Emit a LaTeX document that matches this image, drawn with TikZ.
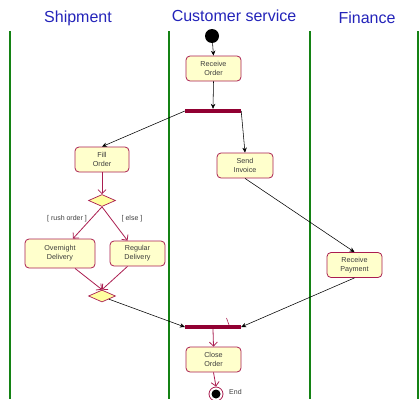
\documentclass[tikz,border=0pt]{standalone}
\usepackage{fontspec}
\setmainfont{Liberation Sans}
\usetikzlibrary{arrows.meta,shapes.geometric}
\definecolor{lanegreen}{RGB}{20,130,20}
\definecolor{titleblue}{RGB}{35,35,185}
\definecolor{boxred}{RGB}{170,30,80}
\definecolor{boxfill}{RGB}{255,255,204}
\definecolor{barred}{RGB}{145,0,50}
\definecolor{decfill}{RGB}{255,255,160}
\definecolor{textgrey}{RGB}{60,60,60}
\tikzset{
  lane/.style={draw=lanegreen, line width=1.6pt},
  lanetitle/.style={text=titleblue, font=\fontsize{16}{18}\selectfont, inner sep=0pt},
  activity/.style={draw=boxred, fill=boxfill, rounded corners=4pt, line width=0.8pt,
    minimum width=55pt, minimum height=25pt, inner sep=0pt, align=center,
    text=textgrey, font=\fontsize{7.2}{9}\selectfont},
  syncbar/.style={fill=barred, minimum width=56pt, minimum height=4pt, inner sep=0pt},
  decision/.style={diamond, draw=boxred, fill=decfill, line width=0.7pt,
    minimum width=27pt, minimum height=12pt, inner sep=0pt, aspect=2.25},
  flow/.style={draw=black, line width=0.55pt, -{Stealth[length=5pt,width=4.5pt]}},
  redflow/.style={draw=boxred, line width=0.8pt, -{Straight Barb[length=4pt,width=8pt]}},
  guard/.style={text=textgrey, font=\fontsize{7}{8}\selectfont, inner sep=0pt},
}
\begin{document}
\begin{tikzpicture}[x=1pt,y=-1pt]
\useasboundingbox (0,0) rectangle (420,399);

% swimlane separators
\coordinate (l0t) at (10,31);   \coordinate (l0b) at (10,399);
\coordinate (l1t) at (169,31);  \coordinate (l1b) at (169,399);
\coordinate (l2t) at (310,31);  \coordinate (l2b) at (310,399);
\coordinate (l3t) at (418,31);  \coordinate (l3b) at (418,399);
\draw[lane] (l0t) -- (l0b);
\draw[lane] (l1t) -- (l1b);
\draw[lane] (l2t) -- (l2b);
\draw[lane] (l3t) -- (l3b);

% lane titles
\node[lanetitle] (tship) at (78,18) {Shipment};
\node[lanetitle] (tcust) at (234,16) {Customer service};
\node[lanetitle] (tfin) at (367,18) {Finance};

% initial state
\node[circle, fill=black, minimum size=14pt, inner sep=0pt] (start) at (212,36) {};

% activities
\node[activity] (recv) at (213.5,68.5) {Receive\\Order};
\node[syncbar] (fork) at (213,111) {};
\node[activity, minimum width=54pt] (fill) at (102,159.5) {Fill\\Order};
\node[activity, minimum width=56pt] (send) at (245,165.5) {Send\\Invoice};
\node[decision] (dec) at (102,200.5) {};
\node[activity, minimum width=70pt, minimum height=29pt] (over) at (60,253.5) {Overnight\\Delivery};
\node[activity] (reg) at (137.5,253.5) {Regular\\Delivery};
\node[decision] (merge) at (102,296) {};
\node[activity] (pay) at (354.5,265) {Receive\\Payment};
\node[syncbar] (join) at (213,327) {};
\node[activity] (close) at (213.5,359.5) {Close\\Order};

% final state
\node[circle, draw=boxred, fill=white, line width=0.8pt, minimum size=14pt, inner sep=0pt] (end) at (216,394) {};
\node[circle, fill=black, minimum size=9pt, inner sep=0pt] (endcore) at (216,394) {};
\node[guard, anchor=west] (endlbl) at (229,392) {End};

% guards
\node[guard] (grush) at (67,219) {[ rush order ]};
\node[guard] (gelse) at (132,219) {[ else ]};

% control flow
\draw[flow] (start) -- (recv.north);
\draw[flow] (recv.south) -- (fork.north);
\draw[flow] (fork.west) -- (fill.north);
\draw[flow] (fork.east) -- (send.north);
\draw[redflow] (fill.south) -- (dec.north);
\draw[redflow] (dec.south) -- ([xshift=13pt]over.north);
\draw[redflow] (dec.south) -- ([xshift=-10pt]reg.north);
\draw[redflow] ([xshift=15pt]over.south) -- (merge.north);
\draw[redflow] ([xshift=-10pt]reg.south) -- (merge.north);
\draw[flow] (send.south) -- (pay.north);
\draw[flow] (merge.south east) -- (join.west);
\draw[flow] (pay.south) -- (join.east);
\draw[redflow] (join.south) -- (close.north);
\draw[redflow] (close.south) -- (end.north);

% small tick on the join bar
\coordinate (tickA) at (226.5,318);
\coordinate (tickB) at (229,325);
\draw[boxred, line width=0.6pt] (tickA) -- (tickB);
\end{tikzpicture}
\end{document}
